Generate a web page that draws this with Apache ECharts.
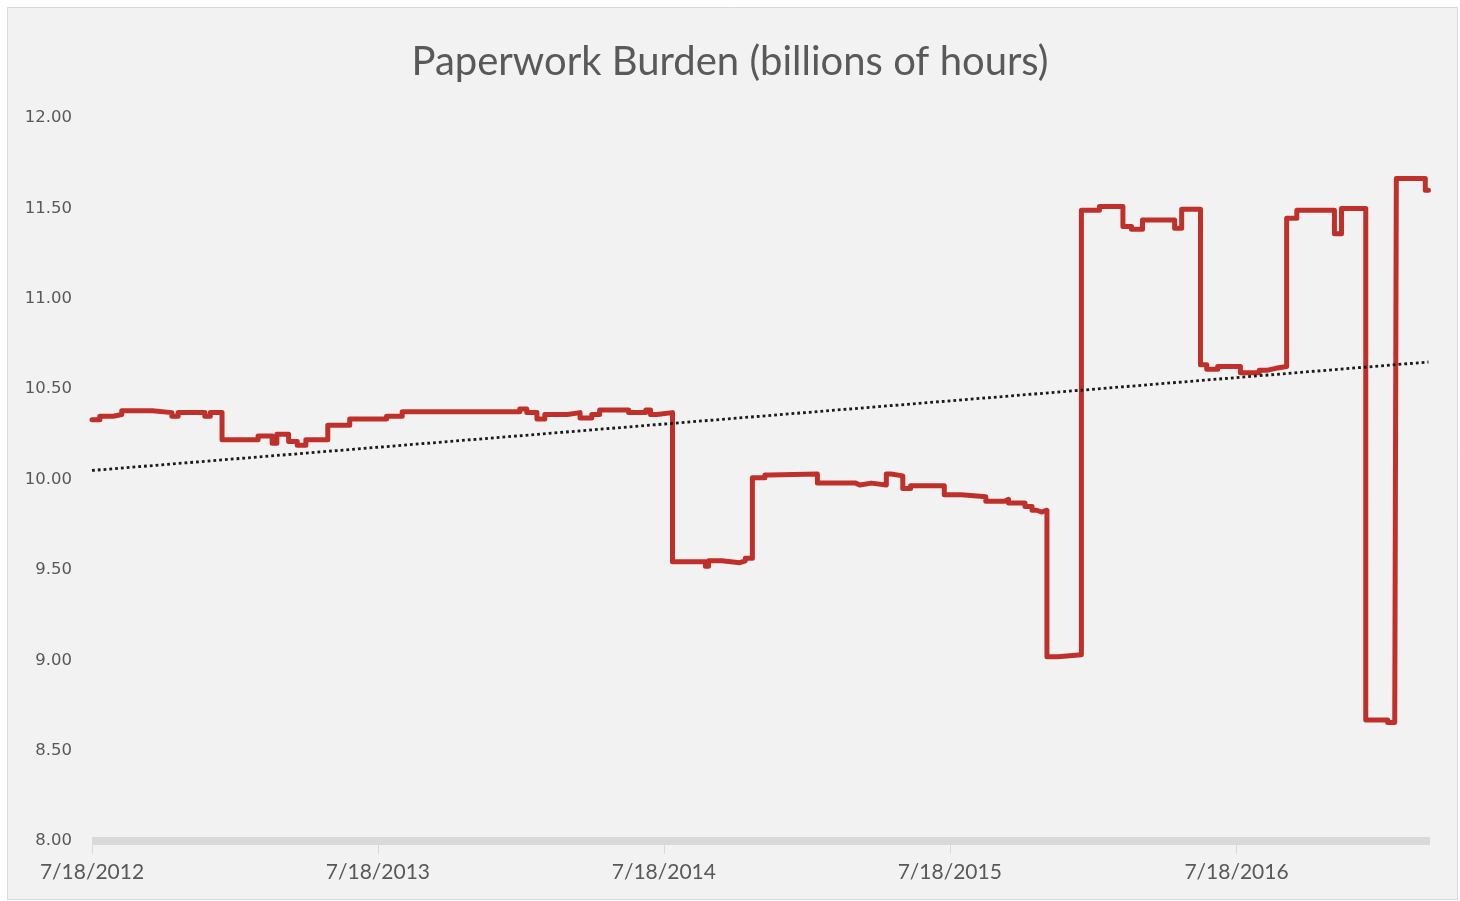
<!DOCTYPE html>
<html>
<head>
<meta charset="utf-8">
<title>Paperwork Burden</title>
<script src="https://cdn.jsdelivr.net/npm/echarts@6/dist/echarts.min.js"></script>
<style>
  html, body { margin: 0; padding: 0; background: #ffffff; }
  #chart { width: 1460px; height: 901px; }
</style>
</head>
<body>
<div id="chart"></div>
<script>
// change points of the burden series (step line: value holds until next date)
const burdenDates = [
  '2012-07-18', '2012-07-28', '2012-08-14', '2012-08-25', '2012-10-03', '2012-10-28',
  '2012-11-05', '2012-12-09', '2012-12-16', '2012-12-31', '2013-02-15', '2013-03-05',
  '2013-03-11', '2013-03-26', '2013-04-06', '2013-04-17', '2013-05-15', '2013-06-12',
  '2013-07-29', '2013-08-18', '2014-01-15', '2014-01-24', '2014-02-06', '2014-02-16',
  '2014-03-17', '2014-04-02', '2014-04-17', '2014-04-27', '2014-06-03', '2014-06-25',
  '2014-07-01', '2014-07-09', '2014-07-29', '2014-09-09', '2014-09-13', '2014-09-30',
  '2014-10-23', '2014-10-30', '2014-11-08', '2014-11-24', '2014-11-30', '2015-01-30',
  '2015-03-20', '2015-03-25', '2015-04-09', '2015-04-28', '2015-05-04', '2015-05-19',
  '2015-05-29', '2015-07-11', '2015-08-02', '2015-09-02', '2015-09-26', '2015-10-01',
  '2015-10-22', '2015-10-31', '2015-11-06', '2015-11-12', '2015-11-19', '2015-12-03',
  '2016-01-02', '2016-01-25', '2016-02-24', '2016-03-06', '2016-03-20', '2016-04-30',
  '2016-05-09', '2016-06-02', '2016-06-10', '2016-06-24', '2016-07-23', '2016-08-16',
  '2016-08-27', '2016-09-06', '2016-09-20', '2016-10-03', '2016-11-20', '2016-11-29',
  '2016-12-30', '2017-01-27', '2017-02-05', '2017-02-07', '2017-03-16', '2017-03-20'
];
const burdenValues = [
  10.33, 10.35, 10.36, 10.38, 10.37, 10.35,
  10.37, 10.35, 10.37, 10.22, 10.24, 10.20,
  10.25, 10.21, 10.19, 10.22, 10.30, 10.335,
  10.35, 10.375, 10.39, 10.37, 10.335, 10.36,
  10.37, 10.34, 10.36, 10.385, 10.37, 10.385,
  10.36, 10.37, 9.545, 9.52, 9.55, 9.54,
  9.55, 9.565, 10.01, 10.025, 10.03, 9.98,
  9.97, 9.98, 9.97, 10.03, 10.02, 9.95,
  9.965, 9.915, 9.905, 9.88, 9.89, 9.87,
  9.85, 9.83, 9.82, 9.83, 9.02, 9.03,
  11.49, 11.51, 11.40, 11.385, 11.435, 11.39,
  11.495, 10.635, 10.61, 10.625, 10.59, 10.605,
  10.615, 10.625, 11.445, 11.49, 11.36, 11.50,
  8.67, 8.655, 8.665, 11.665, 11.60, 11.60
];

// linear trend line end points
const trendDates = ['2012-07-18', '2017-03-20'];
const trendValues = [10.05, 10.65];

// x axis labels sit on each 7/18
const tickDates = ['2012-07-18', '2013-07-18', '2014-07-18', '2015-07-18', '2016-07-18'];
const xStart = '2012-07-18', xEnd = '2017-03-22';
const yMin = 8, yMax = 12, yStep = 0.5;

// x is counted in days from the first date
const DAY = 86400000;
function toDay(s) {
  const p = s.split('-');
  const a = Date.UTC(+p[0], +p[1] - 1, +p[2]);
  const q = xStart.split('-');
  return Math.round((a - Date.UTC(+q[0], +q[1] - 1, +q[2])) / DAY);
}
function dayLabel(v) {
  const q = xStart.split('-');
  const d = new Date(Date.UTC(+q[0], +q[1] - 1, +q[2]) + Math.round(v) * DAY);
  return (d.getUTCMonth() + 1) + '/' + d.getUTCDate() + '/' + d.getUTCFullYear();
}

const chart = echarts.init(document.getElementById('chart'));

const option = {
  animation: false,
  backgroundColor: '#ffffff',
  graphic: [{
    type: 'rect',
    left: 7, top: 7,
    shape: { width: 1450, height: 892 },
    style: { fill: '#f2f2f2', stroke: '#d9d9d9', lineWidth: 1 },
    z: -10,
    silent: true
  }],
  title: {
    text: 'Paperwork Burden (billions of hours)',
    left: 'center',
    top: 37,
    textStyle: {
      fontFamily: 'Lato',
      fontSize: 40,
      fontWeight: 'normal',
      color: '#595959'
    }
  },
  grid: {
    left: 92,
    right: 30,
    top: 118,
    bottom: 60,
    outerBoundsMode: 'none'
  },
  xAxis: {
    type: 'value',
    min: 0,
    max: toDay(xEnd),
    axisLine: { show: true, lineStyle: { color: '#d9d9d9', width: 8, cap: 'butt' } },
    axisTick: {
      show: true,
      customValues: tickDates.map(toDay),
      length: 13,
      lineStyle: { color: '#d9d9d9', width: 1 }
    },
    axisLabel: {
      customValues: tickDates.map(toDay),
      formatter: dayLabel,
      margin: 21,
      fontFamily: 'Lato',
      fontSize: 21,
      color: '#595959'
    },
    splitLine: { show: false }
  },
  yAxis: {
    type: 'value',
    min: yMin,
    max: yMax,
    interval: yStep,
    axisLine: { show: false },
    axisTick: { show: false },
    splitLine: { show: false },
    axisLabel: {
      formatter: function (v) { return v.toFixed(2); },
      margin: 20,
      fontFamily: 'DejaVu Sans',
      fontSize: 16.5,
      color: '#595959'
    }
  },
  series: [
    {
      name: 'Burden',
      type: 'line',
      step: 'end',
      showSymbol: false,
      data: burdenDates.map((d, i) => [toDay(d), burdenValues[i]]),
      lineStyle: { color: '#c0302b', width: 5, join: 'round', cap: 'round' },
      z: 3
    },
    {
      name: 'Trend',
      type: 'line',
      showSymbol: false,
      data: trendDates.map((d, i) => [toDay(d), trendValues[i]]),
      lineStyle: { color: '#1a1a1a', width: 2.8, type: [2.8, 3] },
      z: 4
    }
  ]
};

chart.setOption(option);
</script>
</body>
</html>
